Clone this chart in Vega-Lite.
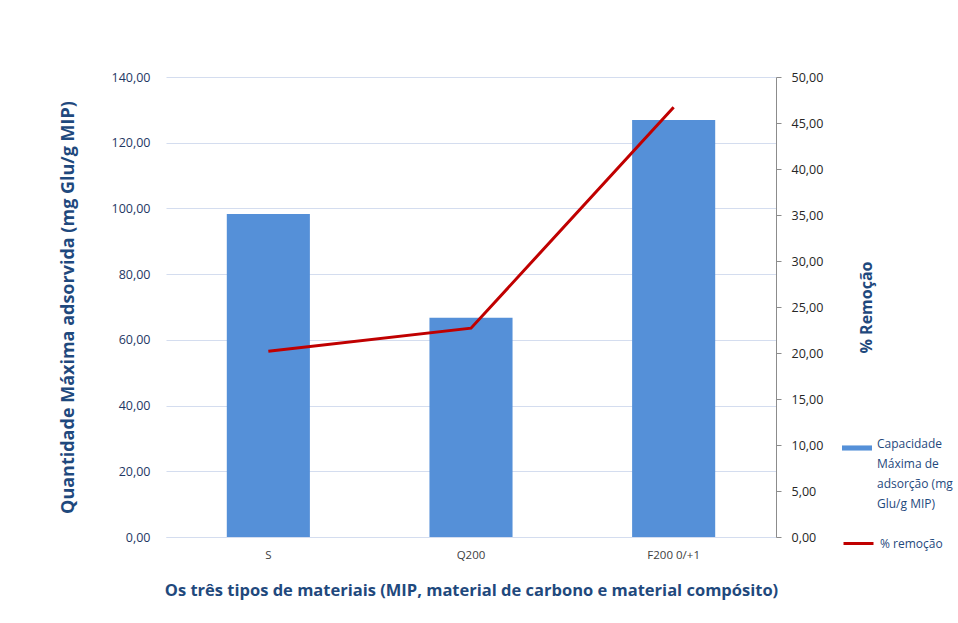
{
  "$schema": "https://vega.github.io/schema/vega-lite/v6.json",
  "autosize": {"type": "none"},
  "padding": {"left": 166, "top": 77, "right": 182, "bottom": 86},
  "width": 610,
  "height": 460,
  "background": "white",
  "config": {
    "font": "Open Sans",
    "view": {"stroke": null},
    "style": {"guide-label": {"lineHeight": 20}},
    "locale": {"number": {"decimal": ",", "thousands": ".", "grouping": [3], "currency": ["", " €"]}}
  },
  "data": {
    "values": [
      {"material": "S", "capacidade": 98.3, "remocao": 20.2},
      {"material": "Q200", "capacidade": 66.7, "remocao": 22.7},
      {"material": "F200 0/+1", "capacidade": 126.9, "remocao": 46.7}
    ]
  },
  "encoding": {
    "x": {
      "field": "material",
      "type": "nominal",
      "sort": null,
      "scale": {"paddingInner": 0.59, "paddingOuter": 0.3},
      "axis": {
        "title": "Os três tipos de materiais (MIP, material de carbono e material compósito)",
        "titleFontSize": 16.5,
        "titleFontWeight": "bold",
        "titleColor": "#1F497D",
        "titlePadding": 22,
        "labelAngle": 0,
        "labelFontSize": 11.5,
        "labelColor": "#404040",
        "labelPadding": 12,
        "domainColor": "#D4DDEF",
        "ticks": false
      }
    }
  },
  "layer": [
    {
      "mark": {"type": "bar", "color": "#5590D8"},
      "encoding": {
        "y": {
          "field": "capacidade",
          "type": "quantitative",
          "scale": {"domain": [0, 140]},
          "axis": {
            "title": "Quantidade Máxima adsorvida (mg Glu/g MIP)",
            "titleFontSize": 18,
            "titleFontWeight": "bold",
            "titleColor": "#1F497D",
            "titlePadding": 34,
            "format": ".2f",
            "values": [0, 20, 40, 60, 80, 100, 120, 140],
            "labelFontSize": 12.5,
            "labelColor": "#1F3864",
            "labelPadding": 16,
            "domain": false,
            "ticks": false,
            "grid": true,
            "gridColor": "#D4DDEF",
            "gridWidth": 1.2
          }
        },
        "fill": {
          "datum": "Capacidade Máxima de adsorção (mg Glu/g MIP)",
          "type": "nominal",
          "scale": {"range": ["#5590D8"]},
          "legend": {
            "title": null,
            "orient": "none",
            "legendX": 676,
            "legendY": 356,
            "symbolType": "M-1,-0.17H1V0.17H-1Z",
            "symbolSize": 900,
            "symbolStrokeWidth": 0,
            "labelExpr": "['Capacidade', 'Máxima de', 'adsorção (mg', 'Glu/g MIP)']",
            "labelBaseline": "alphabetic",
            "labelFontSize": 12,
            "labelColor": "#1F497D",
            "labelOffset": 5
          }
        }
      }
    },
    {
      "mark": {"type": "line", "strokeWidth": 3},
      "encoding": {
        "y": {
          "field": "remocao",
          "type": "quantitative",
          "scale": {"domain": [0, 50]},
          "axis": {
            "orient": "right",
            "title": "% Remoção",
            "titleFontSize": 16,
            "titleFontWeight": "bold",
            "titleColor": "#1F497D",
            "titleAngle": 270,
            "titlePadding": 52,
            "format": ".2f",
            "values": [0, 5, 10, 15, 20, 25, 30, 35, 40, 45, 50],
            "labelFontSize": 12.5,
            "labelColor": "#262626",
            "labelPadding": 10,
            "domainColor": "#8C8C8C",
            "tickColor": "#8C8C8C",
            "tickSize": 5,
            "grid": false
          }
        },
        "stroke": {
          "datum": "% remoção",
          "type": "nominal",
          "scale": {"range": ["#C00000"]},
          "legend": {
            "title": null,
            "orient": "none",
            "legendX": 676,
            "legendY": 450,
            "symbolType": "stroke",
            "symbolSize": 900,
            "symbolStrokeWidth": 3,
            "labelFontSize": 12,
            "labelColor": "#1F497D",
            "labelOffset": 5
          }
        }
      }
    }
  ],
  "resolve": {"scale": {"y": "independent", "fill": "independent", "stroke": "independent"}}
}
